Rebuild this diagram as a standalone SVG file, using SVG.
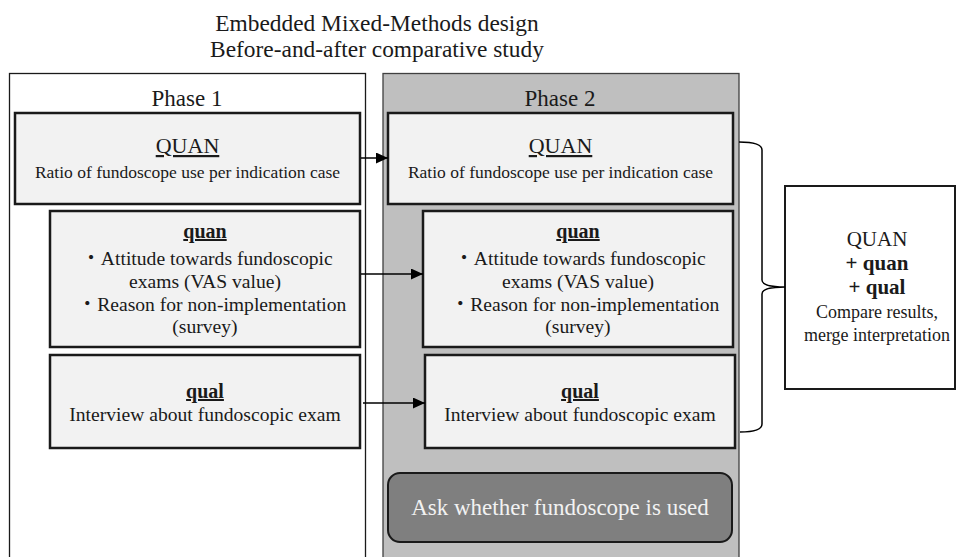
<svg xmlns="http://www.w3.org/2000/svg" width="956" height="557" viewBox="0 0 956 557">
<style>
  text { font-family: "Liberation Serif", "Noto Sans CJK JP", serif; fill: #1a1a1a; text-anchor: middle; }
  .title { font-size: 23.4px; }
  .phase { font-size: 23px; }
  .big { font-size: 22px; text-decoration: underline; }
  .hd { font-size: 20px; font-weight: bold; text-decoration: underline; }
  .body { font-size: 17.5px; }
  .body2 { font-size: 19.6px; }
  .box { fill: #f2f2f2; stroke: #1a1a1a; stroke-width: 2.5; }
  .conn { stroke: #000; stroke-width: 1.5; fill: none; }
</style>
<defs>
  <marker id="ah" markerWidth="12" markerHeight="12" refX="12" refY="5.5" orient="auto" markerUnits="userSpaceOnUse">
    <path d="M0,0 L12,5.5 L0,11 z" fill="#000"/>
  </marker>
</defs>
<rect width="956" height="557" fill="#fff"/>

<g id="title">
  <text class="title" x="377" y="31">Embedded Mixed-Methods design</text>
  <text class="title" x="377" y="57">Before-and-after comparative study</text>
</g>

<g id="phase1">
  <rect x="9.5" y="73.5" width="356" height="500" fill="#fff" stroke="#1a1a1a" stroke-width="1.3"/>
  <text class="phase" x="187" y="106">Phase 1</text>
</g>
<g id="phase2">
  <rect x="383" y="73.5" width="356" height="500" fill="#bfbfbf" stroke="#404040" stroke-width="1.3"/>
  <text class="phase" x="560" y="106">Phase 2</text>
</g>

<g id="p1-QUAN">
  <rect class="box" x="15" y="113" width="345" height="91"/>
  <text class="big" x="187.5" y="153">QUAN</text>
  <text class="body" x="187.5" y="178">Ratio of fundoscope use per indication case</text>
</g>
<g id="p1-quan">
  <rect class="box" x="50" y="211" width="310" height="136"/>
  <text class="hd" x="205" y="238">quan</text>
  <text class="body2" x="207" y="265">・Attitude towards fundoscopic</text>
  <text class="body2" x="205" y="288">exams (VAS value)</text>
  <text class="body2" x="212" y="311">・Reason for non-implementation</text>
  <text class="body2" x="205" y="333">(survey)</text>
</g>
<g id="p1-qual">
  <rect class="box" x="50" y="355" width="310" height="93"/>
  <text class="hd" x="205" y="398">qual</text>
  <text class="body2" x="205" y="421">Interview about fundoscopic exam</text>
</g>

<g id="p2-QUAN">
  <rect class="box" x="388" y="113" width="345" height="91"/>
  <text class="big" x="560.5" y="153">QUAN</text>
  <text class="body" x="560.5" y="178">Ratio of fundoscope use per indication case</text>
</g>
<g id="p2-quan">
  <rect class="box" x="423" y="211" width="310" height="136"/>
  <text class="hd" x="578" y="238">quan</text>
  <text class="body2" x="580" y="265">・Attitude towards fundoscopic</text>
  <text class="body2" x="578" y="288">exams (VAS value)</text>
  <text class="body2" x="585" y="311">・Reason for non-implementation</text>
  <text class="body2" x="578" y="333">(survey)</text>
</g>
<g id="p2-qual">
  <rect class="box" x="425" y="355" width="310" height="93"/>
  <text class="hd" x="580" y="398">qual</text>
  <text class="body2" x="580" y="421">Interview about fundoscopic exam</text>
</g>
<g id="ask">
  <rect x="388" y="473" width="344" height="69" rx="12" fill="#7f7f7f" stroke="#1a1a1a" stroke-width="2"/>
  <text x="560" y="515" style="font-size:23px; fill:#f2f2f2">Ask whether fundoscope is used</text>
</g>

<g id="result">
  <rect x="785" y="186" width="170" height="203" fill="#fff" stroke="#1a1a1a" stroke-width="2"/>
  <text x="877" y="246" style="font-size:21px">QUAN</text>
  <text x="877" y="270" style="font-size:21px; font-weight:bold">+ quan</text>
  <text x="877" y="294" style="font-size:21px; font-weight:bold">+ qual</text>
  <text x="877" y="318" style="font-size:18px">Compare results,</text>
  <text x="877" y="341" style="font-size:18px">merge interpretation</text>
</g>

<g id="connectors">
  <line class="conn" x1="361" y1="158" x2="388" y2="158" marker-end="url(#ah)"/>
  <line class="conn" x1="361" y1="274" x2="423" y2="274" marker-end="url(#ah)"/>
  <line class="conn" x1="363" y1="403" x2="425" y2="403" marker-end="url(#ah)"/>
  <path class="conn" stroke-width="2" d="M739,142 Q762,142 762,150 L762,280 Q762,287 785,287 Q762,287 762,294 L762,424 Q762,432 740,432"/>
</g>
</svg>
